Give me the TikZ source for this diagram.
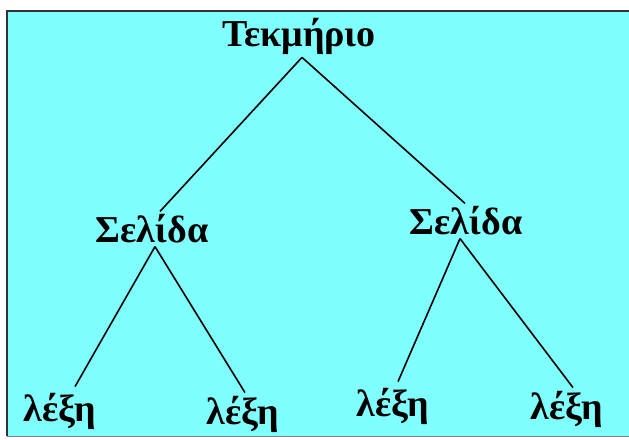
\documentclass[tikz,border=0pt]{standalone}
\usepackage{fontspec}
\setmainfont{Liberation Serif}
\usetikzlibrary{positioning}
\definecolor{cyanBg}{HTML}{80FFFF}
\definecolor{frameGray}{HTML}{333333}

\begin{document}
\begin{tikzpicture}[x=1pt,y=-1pt,
  word/.style={font=\bfseries\fontsize{38}{40}\selectfont,inner sep=3pt},
  edge/.style={line width=1.6pt}]
  \useasboundingbox (0,0) rectangle (629,439);
  % background panel
  \fill[cyanBg] (7,11) rectangle (640,436);
  \draw[frameGray,line width=1.6pt] (7,436) -- (7,11) -- (640,11);
  \draw[gray,line width=0.8pt] (7,436) -- (640,436);
  % document and pages
  \node[word] (doc) at (299,36) {Τεκμήριο};
  \node[word] (pageL) at (152,229) {Σελίδα};
  \node[word] (pageR) at (466,221) {Σελίδα};
  % words
  \node[word] (w1) at (60,411) {λέξη};
  \node[word] (w2) at (243,414) {λέξη};
  \node[word] (w3) at (393,406) {λέξη};
  \node[word] (w4) at (567,409) {λέξη};
  \draw[edge] ([xshift=3pt]doc.south) -- ([xshift=8pt]pageL.north);
  \draw[edge] ([xshift=3pt]doc.south) -- ([xshift=-1pt]pageR.north);
  \foreach \p/\s/\a/\sa/\b/\sb in {pageL/3/w1/15/w2/2, pageR/-6/w3/5/w4/6} {
    \draw[edge] ([xshift=\s pt]\p.south) -- ([xshift=\sa pt,yshift=3pt]\a.north);
    \draw[edge] ([xshift=\s pt]\p.south) -- ([xshift=\sb pt]\b.north);
  }
\end{tikzpicture}
\end{document}
